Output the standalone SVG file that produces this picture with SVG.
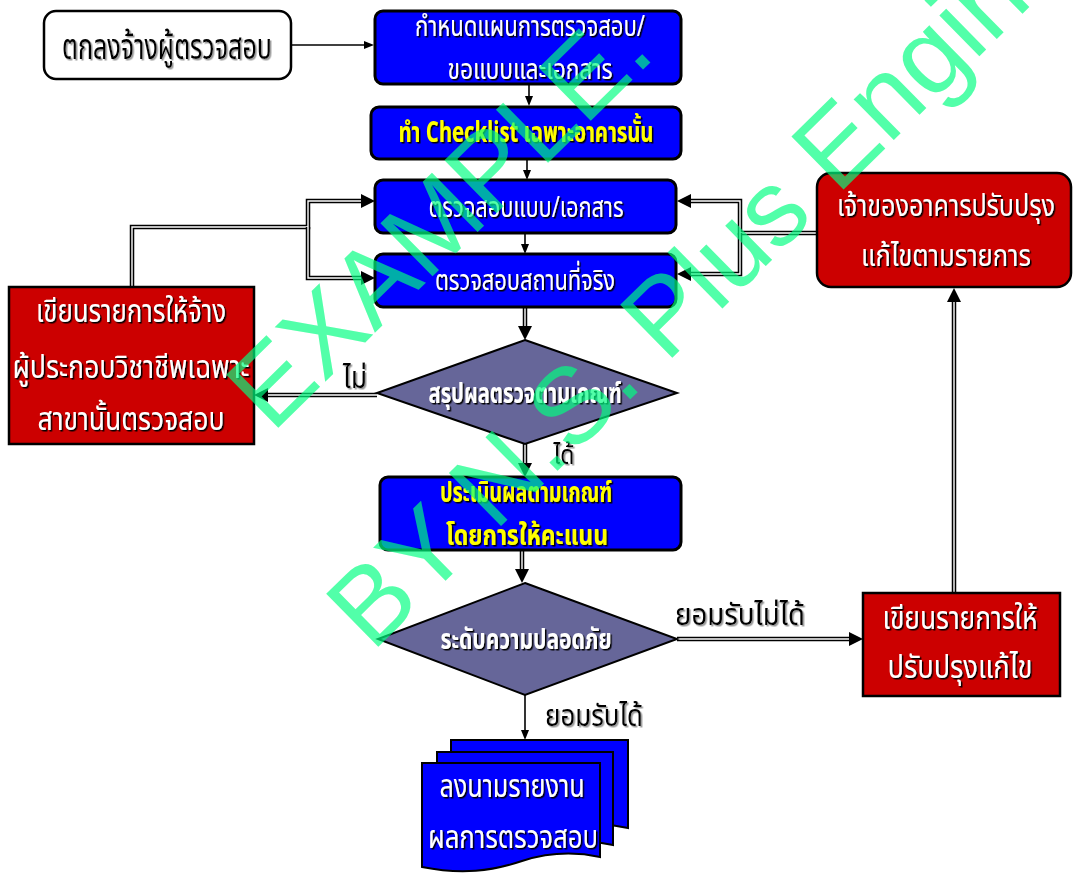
<svg xmlns="http://www.w3.org/2000/svg" width="1073" height="875" viewBox="0 0 1073 875">
<defs>
<style>
.th{font-family:"Noto Sans Thai","Noto Serif Thai","Loma","Garuda","Norasi","Noto Sans","DejaVu Sans",sans-serif;text-anchor:middle}
.w{fill:#fff;filter:url(#shd)}
.y{fill:#ffff00;font-weight:bold;filter:url(#shd)}
.k{fill:#000;filter:url(#shl)}
.blue{fill:#0000ff;stroke:#000;stroke-width:3}
.red{fill:#cc0000;stroke:#000;stroke-width:2.5}
.dia{fill:#666699;stroke:#000;stroke-width:2}
.sl{fill:none;stroke:#000;stroke-width:1.6}
.dl{fill:none;stroke:#000;stroke-width:4.5}
.di{fill:none;stroke:#fff;stroke-width:1.4}
.wm{font-family:"Liberation Sans",Arial,sans-serif;font-size:108px;fill:#00ff80;fill-opacity:0.68}
</style>
<filter id="shd" x="-5%" y="-20%" width="110%" height="140%"><feDropShadow dx="1.5" dy="1.5" stdDeviation="0" flood-color="#000"/></filter>
<filter id="shl" x="-5%" y="-20%" width="110%" height="140%"><feDropShadow dx="1.5" dy="1.5" stdDeviation="0" flood-color="#999"/></filter>
<marker id="ab" viewBox="0 0 14 14" markerWidth="14" markerHeight="14" refX="0" refY="7" orient="auto" markerUnits="userSpaceOnUse"><path d="M0,0 L14,7 L0,14 z" fill="#000"/></marker>
<marker id="as" viewBox="0 0 10 8" markerWidth="10" markerHeight="8" refX="0" refY="4" orient="auto" markerUnits="userSpaceOnUse"><path d="M0,0 L10,4 L0,8 z" fill="#000"/></marker>
</defs>
<rect width="1073" height="875" fill="#fff"/>

<g id="connectors">
<path class="sl" d="M291,45 H364" marker-end="url(#as)"/>
<path class="sl" d="M529,84 V96" marker-end="url(#as)"/>
<path class="sl" d="M527,159 V170" marker-end="url(#as)"/>
<path class="sl" d="M525,233 V244" marker-end="url(#as)"/>
<path class="sl" d="M525,695 V730" marker-end="url(#as)"/>
<path class="dl" d="M525,307 V326" marker-end="url(#ab)"/><path class="di" d="M525,307 V326"/>
<path class="dl" d="M525,444 V463" marker-end="url(#ab)"/><path class="di" d="M525,444 V463"/>
<path class="dl" d="M522,550 V569" marker-end="url(#ab)"/><path class="di" d="M522,550 V569"/>
<path class="dl" d="M377,395 H268" marker-end="url(#ab)"/><path class="di" d="M377,395 H268"/>
<path class="dl" d="M677,639 H849" marker-end="url(#ab)"/><path class="di" d="M677,639 H849"/>
<path class="dl" d="M954,592 V302" marker-end="url(#ab)"/><path class="di" d="M954,592 V302"/>
<path class="dl" d="M817,233 H740 V201 H691" marker-end="url(#ab)"/><path class="di" d="M817,233 H740 V201 H691"/>
<path class="dl" d="M740,233 V274 H691" marker-end="url(#ab)"/><path class="di" d="M740,233 V274 H691"/>
<path class="dl" d="M132,287 V227 H308 V201 H361" marker-end="url(#ab)"/><path class="di" d="M132,287 V227 H308 V201 H361"/>
<path class="dl" d="M308,227 V278 H361" marker-end="url(#ab)"/><path class="di" d="M308,227 V278 H361"/>
<text class="th k" x="355" y="388" font-size="30" textLength="24" lengthAdjust="spacingAndGlyphs">ไม่</text>
<text class="th k" x="564" y="464" font-size="27" textLength="21" lengthAdjust="spacingAndGlyphs">ได้</text>
<text class="th k" x="740" y="625" font-size="30" textLength="130" lengthAdjust="spacingAndGlyphs">ยอมรับไม่ได้</text>
<text class="th k" x="594" y="726" font-size="30" textLength="98" lengthAdjust="spacingAndGlyphs">ยอมรับได้</text>
</g>

<g id="n1">
<rect x="44" y="11" width="247" height="68" rx="12" fill="#fff" stroke="#000" stroke-width="2.5"/>
<text class="th k" x="167" y="59" font-size="35" textLength="210" lengthAdjust="spacingAndGlyphs">ตกลงจ้างผู้ตรวจสอบ</text>
</g>
<g id="n2">
<rect class="blue" x="375" y="11" width="306" height="73" rx="8"/>
<text class="th w" x="530" y="36" font-size="29" textLength="230" lengthAdjust="spacingAndGlyphs">กำหนดแผนการตรวจสอบ/</text>
<text class="th w" x="530" y="79" font-size="29" textLength="165" lengthAdjust="spacingAndGlyphs">ขอแบบและเอกสาร</text>
</g>
<g id="n3">
<rect class="blue" x="371" y="107" width="310" height="52" rx="8"/>
<text class="th y" x="526" y="142" font-size="29" textLength="255" lengthAdjust="spacingAndGlyphs">ทำ Checklist เฉพาะอาคารนั้น</text>
</g>
<g id="n4">
<rect class="blue" x="375" y="180" width="301" height="53" rx="8"/>
<text class="th w" x="526" y="217" font-size="29" textLength="195" lengthAdjust="spacingAndGlyphs">ตรวจสอบแบบ/เอกสาร</text>
</g>
<g id="n5">
<rect class="blue" x="375" y="254" width="301" height="53" rx="8"/>
<text class="th w" x="525" y="290" font-size="29" textLength="180" lengthAdjust="spacingAndGlyphs">ตรวจสอบสถานที่จริง</text>
</g>
<g id="n6">
<polygon class="dia" points="525,340 677,393 525,444 377,393"/>
<text class="th w" x="525" y="403" font-size="29" font-weight="bold" textLength="193" lengthAdjust="spacingAndGlyphs">สรุปผลตรวจตามเกณฑ์</text>
</g>
<g id="n7">
<rect class="red" x="9" y="287" width="245" height="157"/>
<text class="th w" x="131" y="322" font-size="32" textLength="190" lengthAdjust="spacingAndGlyphs">เขียนรายการให้จ้าง</text>
<text class="th w" x="131" y="378" font-size="32" textLength="237" lengthAdjust="spacingAndGlyphs">ผู้ประกอบวิชาชีพเฉพาะ</text>
<text class="th w" x="131" y="430" font-size="32" textLength="187" lengthAdjust="spacingAndGlyphs">สาขานั้นตรวจสอบ</text>
</g>
<g id="n8">
<rect class="blue" x="380" y="477" width="301" height="73" rx="8"/>
<text class="th y" x="526" y="502" font-size="29" textLength="172" lengthAdjust="spacingAndGlyphs">ประเมินผลตามเกณฑ์</text>
<text class="th y" x="527" y="545" font-size="29" textLength="162" lengthAdjust="spacingAndGlyphs">โดยการให้คะแนน</text>
</g>
<g id="n9">
<polygon class="dia" points="525,583 677,639 525,695 378,639"/>
<text class="th w" x="526" y="649" font-size="29" font-weight="bold" textLength="171" lengthAdjust="spacingAndGlyphs">ระดับความปลอดภัย</text>
</g>
<g id="n10">
<rect class="red" x="863" y="593" width="197" height="103"/>
<text class="th w" x="960" y="629" font-size="32" textLength="155" lengthAdjust="spacingAndGlyphs">เขียนรายการให้</text>
<text class="th w" x="960" y="678" font-size="32" textLength="145" lengthAdjust="spacingAndGlyphs">ปรับปรุงแก้ไข</text>
</g>
<g id="n11">
<rect class="red" x="817" y="173" width="254" height="114" rx="14"/>
<text class="th w" x="946" y="216" font-size="31" textLength="218" lengthAdjust="spacingAndGlyphs">เจ้าของอาคารปรับปรุง</text>
<text class="th w" x="946" y="266" font-size="31" textLength="170" lengthAdjust="spacingAndGlyphs">แก้ไขตามรายการ</text>
</g>
<g id="n12">
<path d="M451,740 H628 V828 C600,822 575,824 550,832 C520,842 490,846 451,838 Z" fill="#0000ff" stroke="#000" stroke-width="2"/>
<path d="M437,752 H613 V845 C585,839 560,841 535,849 C505,859 475,863 437,855 Z" fill="#0000ff" stroke="#000" stroke-width="2"/>
<path d="M422,763 H600 V857 C572,851 547,853 522,861 C492,871 462,875 422,867 Z" fill="#0000ff" stroke="#000" stroke-width="2"/>
<text class="th w" x="512" y="797" font-size="32" textLength="145" lengthAdjust="spacingAndGlyphs">ลงนามรายงาน</text>
<text class="th w" x="513" y="848" font-size="32" textLength="170" lengthAdjust="spacingAndGlyphs">ผลการตรวจสอบ</text>
</g>

<g id="watermark">
<text class="wm" transform="translate(272,434) rotate(-44.5)">EXAMPLE.</text>
<text class="wm" transform="translate(372,653) rotate(-44.5)">BY N.S. Plus Engin</text>
</g>
</svg>
